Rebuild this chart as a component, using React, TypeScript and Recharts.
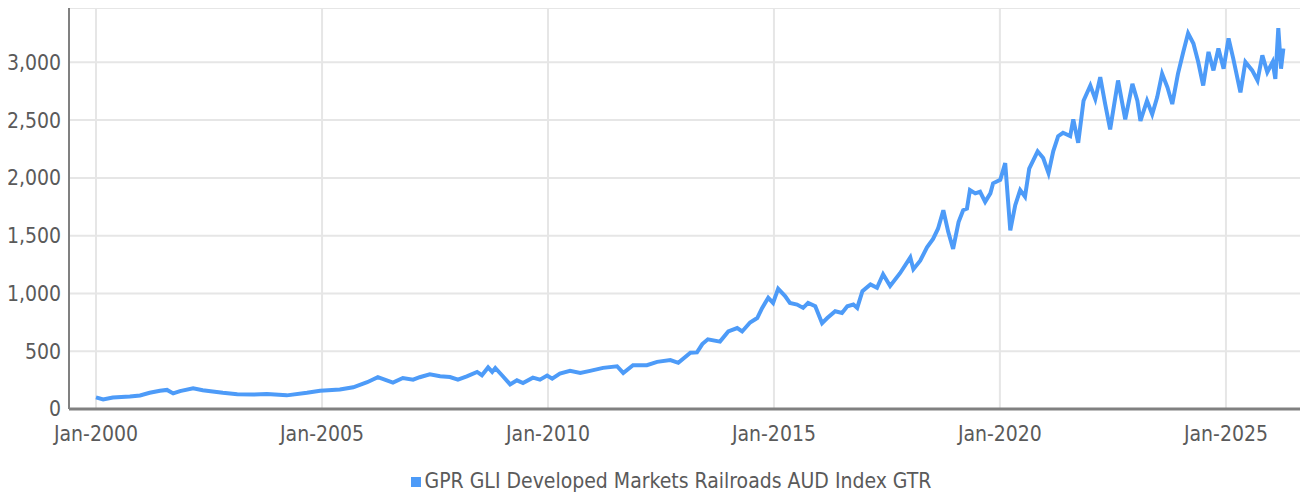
import { LineChart, Line, XAxis, YAxis, CartesianGrid, Legend } from 'recharts';

const dates = [
  '2000-01-01', '2000-02-28', '2000-05-16', '2000-10-01', '2000-12-22', '2001-03-10', '2001-06-01', '2001-07-28',
  '2001-09-16', '2001-11-10', '2002-02-24', '2002-05-13', '2002-08-01', '2002-10-22', '2003-02-16', '2003-06-22',
  '2003-10-13', '2004-03-22', '2004-09-01', '2004-12-16', '2005-05-25', '2005-09-10', '2006-01-01', '2006-03-28',
  '2006-07-28', '2006-10-16', '2007-01-07', '2007-03-01', '2007-05-22', '2007-08-13', '2007-11-01', '2008-01-04',
  '2008-03-16', '2008-06-07', '2008-07-16', '2008-09-04', '2008-10-07', '2008-11-01', '2008-12-25', '2009-03-01',
  '2009-04-25', '2009-06-13', '2009-09-01', '2009-10-28', '2009-12-25', '2010-02-04', '2010-04-07', '2010-06-28',
  '2010-09-19', '2010-12-07', '2011-03-22', '2011-07-13', '2011-09-01', '2011-11-19', '2012-03-10', '2012-06-01',
  '2012-09-16', '2012-11-19', '2013-02-25', '2013-04-19', '2013-06-01', '2013-07-16', '2013-10-22', '2013-12-28',
  '2014-03-10', '2014-04-19', '2014-06-22', '2014-08-19', '2014-09-28', '2014-11-16', '2014-12-25', '2015-02-04',
  '2015-04-01', '2015-05-10', '2015-07-07', '2015-08-25', '2015-10-04', '2015-12-01', '2016-01-25', '2016-03-07',
  '2016-05-10', '2016-07-04', '2016-08-16', '2016-10-04', '2016-11-04', '2016-12-16', '2017-02-19', '2017-04-13',
  '2017-06-01', '2017-07-28', '2017-10-16', '2018-01-07', '2018-02-01', '2018-03-28', '2018-05-22', '2018-07-10',
  '2018-08-19', '2018-10-01', '2018-11-10', '2018-12-19', '2019-02-01', '2019-03-10', '2019-04-10', '2019-05-04',
  '2019-06-16', '2019-07-25', '2019-09-04', '2019-10-16', '2019-11-07', '2020-01-04', '2020-02-13', '2020-03-25',
  '2020-05-04', '2020-06-13', '2020-07-22', '2020-08-25', '2020-11-01', '2020-12-16', '2021-01-28', '2021-03-07',
  '2021-04-16', '2021-05-25', '2021-07-22', '2021-08-16', '2021-09-25', '2021-11-07', '2022-01-01', '2022-02-10',
  '2022-03-22', '2022-05-01', '2022-06-10', '2022-08-13', '2022-10-10', '2022-12-07', '2023-01-16', '2023-02-10',
  '2023-04-04', '2023-05-16', '2023-06-25', '2023-08-04', '2023-09-16', '2023-10-25', '2023-12-10', '2024-01-22',
  '2024-03-01', '2024-04-13', '2024-05-22', '2024-07-01', '2024-08-13', '2024-09-22', '2024-11-01', '2024-12-13',
  '2025-01-22', '2025-03-01', '2025-04-28', '2025-06-07', '2025-08-01', '2025-09-13', '2025-10-22', '2025-12-01',
  '2026-01-13', '2026-02-04', '2026-02-28', '2026-03-22', '2026-04-10',
];

const values = [
  100, 82, 100, 108, 117, 140, 158, 165,
  135, 155, 180, 162, 152, 140, 128, 125,
  130, 118, 140, 158, 168, 188, 232, 275,
  228, 268, 254, 275, 300, 283, 277, 254,
  283, 321, 292, 360, 321, 355, 292, 213,
  248, 225, 271, 254, 289, 262, 306, 330,
  312, 330, 356, 370, 312, 379, 379, 408,
  423, 400, 487, 490, 562, 603, 583, 671,
  700, 671, 749, 787, 875, 962, 918, 1041,
  977, 918, 904, 875, 918, 889, 743, 787,
  846, 831, 889, 904, 875, 1020, 1078, 1049,
  1166, 1064, 1175, 1312, 1210, 1283, 1399, 1472,
  1560, 1720, 1531, 1385, 1618, 1720, 1734, 1895,
  1866, 1880, 1793, 1866, 1953, 1983, 2128, 1545,
  1764, 1895, 1837, 2080, 2230, 2172, 2041, 2230,
  2361, 2390, 2361, 2507, 2303, 2668, 2799, 2682,
  2871, 2639, 2420, 2843, 2507, 2813, 2668, 2493,
  2668, 2551, 2697, 2901, 2784, 2639, 2900, 3090,
  3251, 3163, 3003, 2799, 3090, 2930, 3120, 2945,
  3207, 3032, 2740, 3003, 2930, 2843, 3061, 2915,
  3003, 2857, 3295, 2945, 3120,
];

const tickYears = [2000, 2005, 2010, 2015, 2020, 2025];
const yTicks = [0, 500, 1000, 1500, 2000, 2500, 3000];
const seriesName = 'GPR GLI Developed Markets Railroads AUD Index GTR';

const ts = (d: string) => Date.parse(d + 'T00:00:00Z');
const data = dates.map((d, i) => ({ t: ts(d), value: values[i] }));
const xTicks = tickYears.map((y) => ts(`${y}-01-01`));

const font = "'DejaVu Sans Condensed', 'DejaVu Sans', sans-serif";
const tickStyle = { fontSize: 21, fill: '#5a5a5a', fontFamily: font };

export default function App() {
  return (
    <div style={{ marginLeft: -8 }}>
      <LineChart width={1308} height={485} data={data} margin={{ top: 0, right: 0, bottom: 0, left: 8 }}>
        <CartesianGrid stroke="#e6e6e6" strokeWidth={2} />
        <XAxis
          dataKey="t"
          type="number"
          scale="time"
          domain={[ts('1999-05-28'), ts('2026-10-26')]}
          ticks={xTicks}
          tickFormatter={(v: number) => `Jan-${new Date(v).getUTCFullYear()}`}
          tick={tickStyle}
          tickLine={false}
          tickMargin={11}
          height={60}
          axisLine={{ stroke: '#808080', strokeWidth: 3 }}
          allowDataOverflow
        />
        <YAxis
          type="number"
          domain={[0, 3470]}
          ticks={yTicks}
          tickFormatter={(v: number) => v.toLocaleString('en-US')}
          tick={tickStyle}
          tickLine={false}
          width={61}
          axisLine={{ stroke: '#808080', strokeWidth: 2 }}
        />
        <Legend
          verticalAlign="bottom"
          iconType="square"
          iconSize={10}
          wrapperStyle={{ fontSize: 21, fontFamily: font, color: '#5a5a5a', paddingLeft: 18 }}
          formatter={(value: string) => <span style={{ color: '#5a5a5a' }}>{value}</span>}
        />
        <Line
          type="linear"
          dataKey="value"
          name={seriesName}
          stroke="#4d9bf8"
          strokeWidth={4}
          dot={false}
          isAnimationActive={false}
        />
      </LineChart>
    </div>
  );
}
